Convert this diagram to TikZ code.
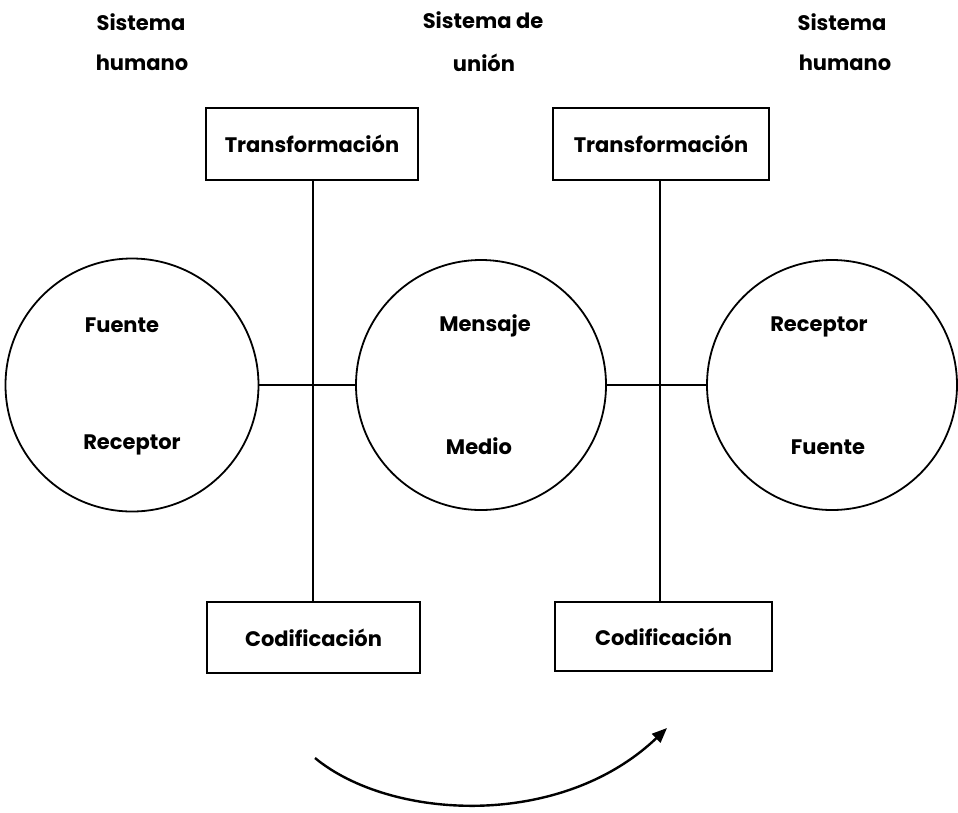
\documentclass[tikz,border=0pt]{standalone}
\usepackage{fontspec}
\setmainfont{Poppins}
\usetikzlibrary{arrows.meta}
\begin{document}
\begin{tikzpicture}[x=1pt,y=-1pt,
  lbl/.style={font=\fontsize{21}{24}\selectfont\bfseries, inner sep=0pt},
  boxnode/.style={draw, line width=1.8pt, minimum width=212pt, minimum height=72pt,
    font=\fontsize{21}{24}\selectfont\bfseries, inner sep=0pt},
  ring/.style={draw, circle, line width=1.8pt, inner sep=0pt},
  link/.style={line width=1.8pt},
  flow/.style={line width=2.4pt, -{Triangle[length=15pt,width=12pt]}}]
\useasboundingbox (0,0) rectangle (958,812);

% column headings
\node[lbl] (h1a) at (141,22) {Sistema};
\node[lbl] (h1b) at (142,63) {humano};
\node[lbl] (h2a) at (483,20) {Sistema de};
\node[lbl] (h2b) at (484,63) {unión};
\node[lbl] (h3a) at (842,22) {Sistema};
\node[lbl] (h3b) at (845,63) {humano};

% transformation and coding boxes
\node[boxnode] (t1) at (312,144) {Transformación};
\node[boxnode, minimum width=216pt] (t2) at (661,144) {Transformación};
\node[boxnode, minimum width=213pt, minimum height=71pt] (c1) at (313.5,637.5) {Codificación};
\node[boxnode, minimum width=217pt, minimum height=69pt] (c2) at (663.5,636.5) {Codificación};

% the three systems
\node[ring, minimum size=253pt] (s1) at (132,385) {};
\node[ring, minimum size=250pt] (s2) at (481,385) {};
\node[ring, minimum size=250pt] (s3) at (832,385) {};

\node[lbl] (f1) at (122,325) {Fuente};
\node[lbl] (r1) at (132,445) {Receptor};
\node[lbl] (m2) at (485,326) {Mensaje};
\node[lbl] (d2) at (479,446) {Medio};
\node[lbl] (r3) at (819,327) {Receptor};
\node[lbl] (f3) at (828,447) {Fuente};

% vertical axes between boxes
\coordinate (v1t) at (313,180);
\coordinate (v2t) at (660,180);
\draw[link] (t1.south -| v1t) -- (c1.north -| v1t);
\draw[link] (t2.south -| v2t) -- (c2.north -| v2t);

% horizontal links between the systems
\draw[link] (s1.east) -- (s2.west);
\draw[link] (s2.east) -- (s3.west);

% direction of the process
\coordinate (a0) at (315,758);
\coordinate (a1) at (667,728);
\draw[flow] (a0) .. controls (390,820) and (560,830) .. (a1);
\end{tikzpicture}
\end{document}
